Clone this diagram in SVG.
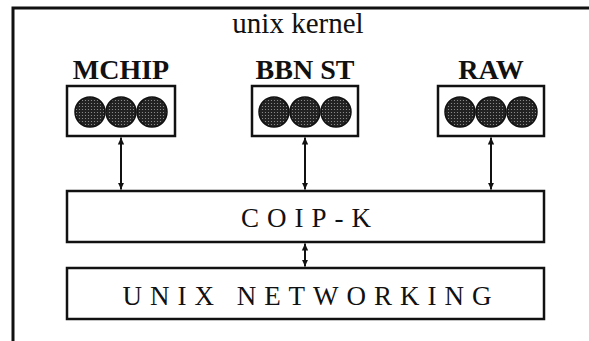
<svg xmlns="http://www.w3.org/2000/svg" width="589" height="341" viewBox="0 0 589 341">
<defs>
<pattern id="stip" width="3" height="3" patternUnits="userSpaceOnUse">
<rect width="3" height="3" fill="#222"/>
<circle cx="1.5" cy="1.5" r="0.6" fill="#999"/>
</pattern>
<marker id="ah" viewBox="0 0 10 10" refX="10" refY="5" markerWidth="7" markerHeight="8" markerUnits="userSpaceOnUse" orient="auto-start-reverse">
<path d="M0,0.5 L10,5 L0,9.5 Z" fill="#111"/>
</marker>
</defs>
<style>
.box{fill:#fff;stroke:#111;stroke-width:2.5}
text{fill:#111;text-anchor:middle;font-family:"Liberation Serif","Times New Roman",serif}
.head{font-size:28px;font-weight:bold}
.wide{font-size:27px;letter-spacing:8px}
.dot{fill:url(#stip);stroke:#111;stroke-width:1.5}
.con{stroke:#111;stroke-width:2;fill:none;marker-start:url(#ah);marker-end:url(#ah)}
</style>
<rect width="589" height="341" fill="#fff"/>
<g id="kernel">
<path d="M13,341 V8 H589" fill="none" stroke="#111" stroke-width="3"/>
<text x="298" y="33" font-size="29">unix kernel</text>
</g>
<g id="mchip">
<text class="head" x="121" y="79">MCHIP</text>
<rect class="box" x="67" y="86" width="108" height="50"/>
<circle class="dot" cx="90" cy="112" r="15"/>
<circle class="dot" cx="121" cy="112" r="15"/>
<circle class="dot" cx="152" cy="112" r="15"/>
</g>
<g id="bbnst">
<text class="head" x="305" y="79">BBN ST</text>
<rect class="box" x="252" y="86" width="106" height="50"/>
<circle class="dot" cx="274" cy="112" r="15"/>
<circle class="dot" cx="305" cy="112" r="15"/>
<circle class="dot" cx="336" cy="112" r="15"/>
</g>
<g id="raw">
<text class="head" x="491" y="79">RAW</text>
<rect class="box" x="438" y="86" width="106" height="50"/>
<circle class="dot" cx="460" cy="112" r="15"/>
<circle class="dot" cx="491" cy="112" r="15"/>
<circle class="dot" cx="522" cy="112" r="15"/>
</g>
<g id="coipk">
<rect class="box" x="67" y="191" width="477" height="51"/>
<text class="wide" x="310" y="227">COIP-K</text>
</g>
<g id="unixnet">
<rect class="box" x="67" y="268" width="477" height="51"/>
<text class="wide" x="311" y="305" letter-spacing="9.3">UNIX NETWORKING</text>
</g>
<g id="connectors">
<line class="con" x1="121" y1="137.5" x2="121" y2="189.5"/>
<line class="con" x1="305" y1="137.5" x2="305" y2="189.5"/>
<line class="con" x1="491" y1="137.5" x2="491" y2="189.5"/>
<line class="con" x1="305" y1="243.5" x2="305" y2="266.5"/>
</g>
</svg>
